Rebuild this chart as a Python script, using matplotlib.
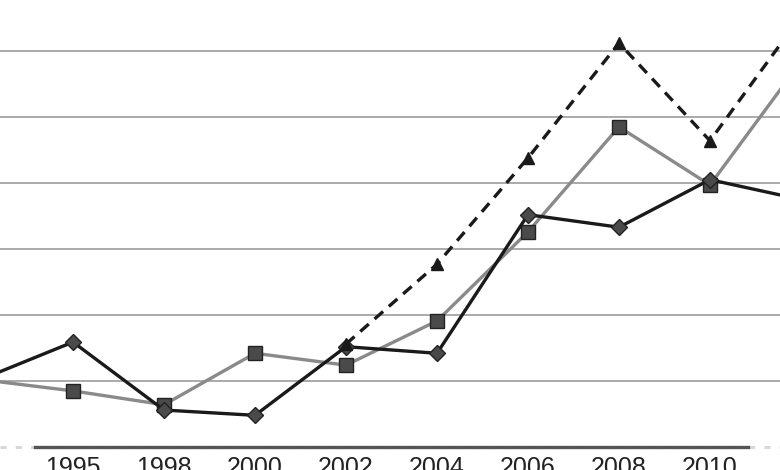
import matplotlib
import matplotlib.pyplot as plt
matplotlib.use('Agg')

# categories (first and last lie outside the visible crop)
years = ["1993", "1995", "1998", "2000", "2002", "2004", "2006", "2008", "2010", "2012"]
diamond_vals = [1.03, 1.59, 0.56, 0.48, 1.52, 1.42, 3.52, 3.33, 4.05, 3.75]
square_vals = [1.02, 0.85, 0.64, 1.42, 1.24, 1.91, 3.26, 4.85, 3.97, 5.84]
triangle_years = ["2002", "2004", "2006", "2008", "2010", "2012"]
triangle_vals = [1.56, 2.77, 4.38, 6.12, 4.64, 6.53]
grid_vals = [1, 2, 3, 4, 5, 6]


def draw():
    fig = plt.figure(figsize=(7.8, 4.7), dpi=100)
    ax = fig.add_axes([0, 23 / 470, 1, 447 / 470])
    xs = list(range(len(years)))
    tx = [years.index(y) for y in triangle_years]

    for g in grid_vals:
        ax.axhline(g, color="#a3a3a8", lw=1.3, zorder=1)

    ax.plot(xs, square_vals, color="#8a8a8a", lw=2.4, marker="s", ms=10,
            mfc="#4a4a4a", mec="#222222", mew=1.0, zorder=3)
    ax.plot(xs, diamond_vals, color="#1a1a1a", lw=2.4, marker="D", ms=8.3,
            mfc="#4a4a4a", mec="#222222", mew=1.0, zorder=4)
    ax.plot(tx, triangle_vals, color="#1a1a1a", lw=2.4, ls=(0, (3.4, 2.3)),
            marker="^", ms=9, mfc="#1a1a1a", mec="#1a1a1a", zorder=5)

    # only the years inside the crop carry a label
    shown = xs[1:-1]
    ax.set_xticks(shown)
    ax.set_xticklabels([years[i] for i in shown], fontsize=18, color="#222222",
                       family=["Liberation Sans", "DejaVu Sans"])
    ax.set_yticks([])
    ax.set_xlim(18 / 91, 798 / 91)
    ax.set_ylim(0, 447 / 66)
    ax.tick_params(axis="x", length=0, pad=6.5)
    for side in ax.spines:
        ax.spines[side].set_visible(False)
    # baseline, faded at both ends of the crop
    ax.axhline(0, color="#d8d8d8", lw=2.2, ls=(0, (2, 3)), clip_on=False, zorder=2)
    ax.axhline(0, xmin=35 / 780, xmax=748 / 780, color="#555555", lw=2.4,
               clip_on=False, zorder=2)
    fig.savefig("out.png", dpi=100)


if __name__ == "__main__":
    draw()
